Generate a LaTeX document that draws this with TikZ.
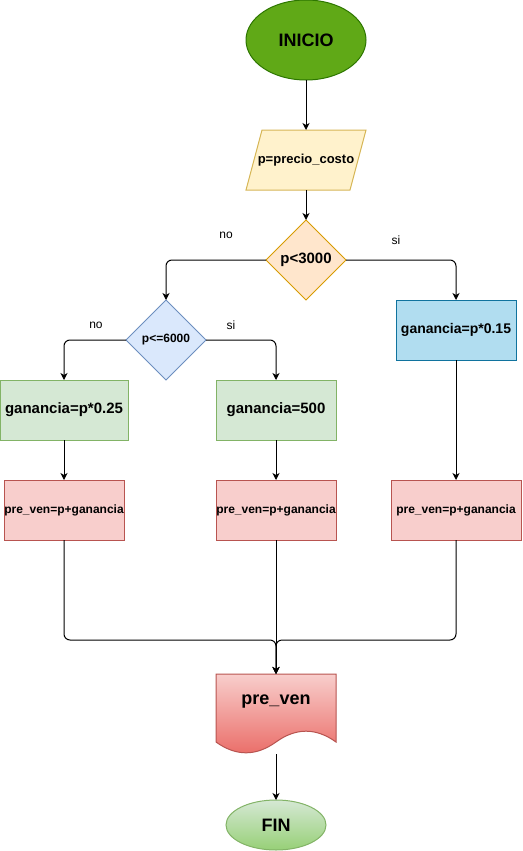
\documentclass[tikz,border=0pt]{standalone}
\usepackage{fontspec}
\setmainfont{Liberation Sans}
\usetikzlibrary{shapes.geometric,arrows.meta,calc}
\definecolor{iniFill}{HTML}{60A917}
\definecolor{iniLine}{HTML}{2D7600}
\definecolor{inFill}{HTML}{FFF2CC}
\definecolor{inLine}{HTML}{D6B656}
\definecolor{dOneFill}{HTML}{FFE6CC}
\definecolor{dOneLine}{HTML}{D79B00}
\definecolor{dTwoFill}{HTML}{DAE8FC}
\definecolor{dTwoLine}{HTML}{6C8EBF}
\definecolor{gFill}{HTML}{D5E8D4}
\definecolor{gLine}{HTML}{82B366}
\definecolor{bFill}{HTML}{B1DDF0}
\definecolor{bLine}{HTML}{10739E}
\definecolor{rFill}{HTML}{F8CECC}
\definecolor{rLine}{HTML}{B85450}
\definecolor{rDark}{HTML}{EA6B66}
\definecolor{gDark}{HTML}{97D077}
\newcommand{\fsz}[1]{\fontsize{#1}{#1}\selectfont}
\begin{document}
\begin{tikzpicture}[x=1pt,y=-1pt,
  base/.style={inner sep=0pt, outer sep=0pt, line width=1pt, align=center, font=\bfseries},
  procbox/.style={base, rectangle, draw, minimum width=120, minimum height=60},
  greenbox/.style={procbox, fill=gFill, draw=gLine, font=\bfseries\fsz{15}},
  redbox/.style={procbox, fill=rFill, draw=rLine, font=\bfseries\fsz{12}},
  decis/.style={base, diamond, draw, shape aspect=1, minimum width=80, minimum height=80},
  lbl/.style={inner sep=0pt, font=\fsz{12}},
  arr/.style={line width=1pt, -{Stealth[length=7pt,width=7pt,inset=2pt]}},
  conn/.style={arr, rounded corners=6pt}
]
\useasboundingbox (0,0) rectangle (522,851);

% start
\node[base, ellipse, draw=iniLine, fill=iniFill, minimum width=120, minimum height=80, font=\bfseries\fsz{18}] (ini) at (306,40) {INICIO};

% input parallelogram
\node[base, minimum width=120, minimum height=60, font=\bfseries\fsz{13}] (inp) at (306,160) {};
\filldraw[line width=1pt, fill=inFill, draw=inLine]
  ($(inp.north west)+(16,0)$) -- (inp.north east) -- ($(inp.south east)+(-16,0)$) -- (inp.south west) -- cycle;
\node[base, font=\bfseries\fsz{13}] at (inp.center) {p=precio\_costo};

% decisions
\node[decis, fill=dOneFill, draw=dOneLine, font=\bfseries\fsz{15}] (d1) at (306,260) {p<3000};
\node[decis, fill=dTwoFill, draw=dTwoLine, font=\bfseries\fsz{12}] (d2) at (166,340) {p<=6000};

% process boxes
\node[procbox, fill=bFill, draw=bLine, font=\bfseries\fsz{14}] (g15) at (456,330) {ganancia=p*0.15};
\node[greenbox, minimum width=128] (g25) at (64,410) {ganancia=p*0.25};
\node[greenbox] (g500) at (276,410) {ganancia=500};
\node[redbox] (pv1) at (64,510) {pre\_ven=p+ganancia};
\node[redbox] (pv2) at (276,510) {pre\_ven=p+ganancia};
\node[redbox, minimum width=130] (pv3) at (456,510) {pre\_ven=p+ganancia};

% document output
\node[base, minimum width=120, minimum height=80] (doc) at (276,714) {};
\shade[top color=rFill, bottom color=rDark]
  (216,674) -- (336,674) -- (336,742)
  .. controls (316,727.6) and (296,727.6) .. (276,742)
  .. controls (256,756.4) and (236,756.4) .. (216,742) -- cycle;
\draw[line width=1pt, draw=rLine]
  (216,674) -- (336,674) -- (336,742)
  .. controls (316,727.6) and (296,727.6) .. (276,742)
  .. controls (256,756.4) and (236,756.4) .. (216,742) -- cycle;
\node[base, font=\bfseries\fsz{18}] at ($(doc.center)+(0,-12)$) {pre\_ven};

% end
\node[base, ellipse, draw=gLine, top color=gFill, bottom color=gDark, minimum width=100, minimum height=50, font=\bfseries\fsz{18}] (fin) at (276,825) {FIN};

\coordinate (m) at (276,640);

% connectors
\draw[arr] (ini.south) -- (inp.north);
\draw[arr] (inp.south) -- (d1.north);
\draw[conn] (d1.west) -| (d2.north);
\draw[conn] (d1.east) -| (g15.north);
\draw[conn] (d2.west) -| (g25.north);
\draw[conn] (d2.east) -| (g500.north);
\draw[arr] (g25.south) -- (pv1.south |- pv1.north);
\draw[arr] (g500.south) -- (pv2.north);
\draw[arr] (g15.south) -- (g15.south |- pv3.north);
\draw[conn] (pv1.south) |- (m) -- (doc.north);
\draw[conn] (pv3.south -| g15.south) |- (m) -- (doc.north);
\draw[arr] (pv2.south) -- (doc.north);
\draw[arr] (doc.south) -- (fin.north);

% labels
\node[lbl] (l1) at (226,235) {no};
\node[lbl] (l2) at (396,240) {si};
\node[lbl] (l3) at (96,325) {no};
\node[lbl] (l4) at (231,325) {si};
\end{tikzpicture}
\end{document}
